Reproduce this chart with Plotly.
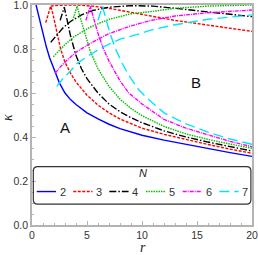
import plotly.graph_objects as go

# ---------------- data ----------------
N_labels = ["2", "3", "4", "5", "6", "7"]

# N = 2 : one descending boundary
r2_low = [0.37, 0.6, 0.8, 1.0, 1.3, 1.6, 2.0, 2.5, 3.0, 3.5, 4.0, 5.0, 6.0, 7.0, 8.0, 9.0, 10.0, 12.0, 14.0, 16.0, 18.0, 20.0]
k2_low = [1.0, 0.95, 0.905, 0.865, 0.81, 0.76, 0.705, 0.645, 0.6, 0.57, 0.548, 0.51, 0.482, 0.458, 0.438, 0.422, 0.408, 0.386, 0.366, 0.347, 0.329, 0.312]

# N = 3
r3_low = [1.25, 1.5, 1.7, 1.9, 2.2, 2.6, 3.0, 3.5, 4.0, 5.0, 6.0, 7.0, 8.0, 9.0, 10.0, 12.0, 14.0, 16.0, 18.0, 20.0]
k3_low = [0.92, 0.965, 0.995, 0.96, 0.89, 0.8, 0.74, 0.69, 0.65, 0.59, 0.545, 0.51, 0.482, 0.46, 0.44, 0.412, 0.388, 0.366, 0.345, 0.326]
r3_up = [1.7, 2.5, 4.0, 5.5, 7.0, 8.8, 10.8, 13.0, 15.0, 17.0, 20.0]
k3_up = [0.995, 0.999, 1.0, 0.995, 0.985, 0.97, 0.95, 0.93, 0.915, 0.9, 0.88]

# N = 4
r4_low = [2.56, 2.75, 2.93, 3.2, 3.5, 4.0, 4.5, 5.0, 6.0, 7.0, 8.0, 9.0, 10.0, 12.0, 14.0, 16.0, 18.0, 20.0]
k4_low = [0.93, 0.96, 0.99, 0.93, 0.86, 0.77, 0.71, 0.665, 0.6, 0.55, 0.515, 0.488, 0.465, 0.428, 0.4, 0.377, 0.356, 0.336]
r4_up = [1.7, 2.2, 2.8, 3.5, 4.5, 5.5, 7.0, 9.0, 11.0, 13.0, 15.0, 17.0, 20.0]
k4_up = [0.83, 0.86, 0.895, 0.925, 0.955, 0.975, 0.99, 0.997, 0.995, 0.985, 0.975, 0.963, 0.947]

# N = 5
r5_low = [3.7, 3.9, 4.1, 4.4, 4.8, 5.3, 6.0, 7.0, 8.0, 9.0, 10.0, 12.0, 14.0, 16.0, 18.0, 20.0]
k5_low = [0.93, 0.965, 0.995, 0.94, 0.87, 0.79, 0.71, 0.63, 0.572, 0.53, 0.497, 0.448, 0.414, 0.389, 0.368, 0.349]
r5_up = [1.95, 2.4, 3.0, 3.8, 5.3, 7.0, 9.0, 10.8, 13.0, 16.0, 20.0]
k5_up = [0.765, 0.79, 0.82, 0.855, 0.9, 0.935, 0.96, 0.97, 0.985, 0.995, 1.0]

# N = 6
r6_low = [4.9, 5.1, 5.3, 5.6, 6.0, 6.5, 7.0, 8.0, 8.8, 10.0, 12.0, 14.0, 16.0, 18.0, 20.0]
k6_low = [0.93, 0.965, 0.995, 0.94, 0.87, 0.8, 0.745, 0.655, 0.6, 0.55, 0.48, 0.44, 0.41, 0.38, 0.356]
r6_up = [2.1, 2.6, 3.2, 4.0, 5.3, 7.0, 9.0, 10.8, 13.0, 16.0, 20.0]
k6_up = [0.69, 0.72, 0.75, 0.785, 0.826, 0.87, 0.905, 0.93, 0.95, 0.965, 0.977]

# N = 7
r7_low = [6.0, 6.2, 6.4, 6.7, 7.1, 7.6, 8.2, 8.8, 9.7, 10.6, 12.0, 14.0, 16.0, 18.0, 20.0]
k7_low = [0.93, 0.965, 0.995, 0.94, 0.87, 0.8, 0.735, 0.68, 0.615, 0.57, 0.51, 0.46, 0.422, 0.391, 0.367]
r7_up = [2.25, 2.8, 3.5, 4.1, 5.3, 6.5, 8.0, 9.5, 10.8, 13.0, 16.0, 20.0]
k7_up = [0.63, 0.665, 0.7, 0.735, 0.775, 0.81, 0.845, 0.865, 0.886, 0.91, 0.935, 0.955]

colors = ["#0000ff", "#ff0000", "#000000", "#00c000", "#ff00ff", "#00e5ff"]
dashes = ["solid", "3px,1.5px", "7px,2px,1.5px,2px", "1.5px,1px", "4px,1px,1px,1px", "10px,5px"]

lows = [(r2_low, k2_low), (r3_low, k3_low), (r4_low, k4_low), (r5_low, k5_low), (r6_low, k6_low), (r7_low, k7_low)]
ups = [None, (r3_up, k3_up), (r4_up, k4_up), (r5_up, k5_up), (r6_up, k6_up), (r7_up, k7_up)]

fig = go.Figure()
for i, lab in enumerate(N_labels):
    line = dict(color=colors[i], width=1.4, dash=dashes[i])
    rx, ky = lows[i]
    fig.add_trace(go.Scatter(x=rx, y=ky, mode="lines", line=line, name=lab, showlegend=False,
                             hoverinfo="skip"))
    if ups[i] is not None:
        ux, uy = ups[i]
        fig.add_trace(go.Scatter(x=ux, y=uy, mode="lines", line=line, name=lab, showlegend=False,
                                 hoverinfo="skip"))

tickfont = dict(family="Liberation Sans", size=10.5, color="#333333")
axis_common = dict(showline=True, linecolor="#b4b4b4", linewidth=1.5, mirror=True,
                   ticks="inside", ticklen=4, tickcolor="#b4b4b4", tickwidth=1,
                   showgrid=False, zeroline=False, automargin=False, tickfont=tickfont,
                   ticklabeloverflow="allow")
fig.update_xaxes(range=[0, 20], tickvals=[0, 5, 10, 15, 20], ticktext=["0", "5", "10", "15", "20"],
                 minor=dict(dtick=1, ticks="inside", ticklen=2, tickcolor="#b4b4b4"),
                 **axis_common)
fig.update_yaxes(range=[0, 1], tickvals=[0, 0.2, 0.4, 0.6, 0.8, 1.0],
                 ticktext=["0.0", "0.2", "0.4", "0.6", "0.8", "1.0"],
                 minor=dict(dtick=0.05, ticks="inside", ticklen=2, tickcolor="#b4b4b4"),
                 **axis_common)

# axis titles
fig.add_annotation(xref="paper", yref="paper", x=0.505, y=-0.1, yanchor="middle", xanchor="center",
                   text="<i>r</i>", showarrow=False,
                   font=dict(family="Liberation Serif", size=14, color="#222222"))
fig.add_annotation(xref="paper", yref="paper", x=-0.114, y=0.49, yanchor="middle", xanchor="center",
                   text="<i>κ</i>", showarrow=False, textangle=-90,
                   font=dict(family="Liberation Serif", size=14, color="#222222"))

# region labels
fig.add_annotation(x=3.0, y=0.445, text="A", showarrow=False,
                   font=dict(family="Liberation Sans", size=15, color="#111111"))
fig.add_annotation(x=14.9, y=0.65, text="B", showarrow=False,
                   font=dict(family="Liberation Sans", size=15, color="#111111"))

# legend frame (rounded)
x0, x1, y0, y1 = 0.12, 19.9, 0.095, 0.265
rx_, ry_ = 0.4, 0.02
fig.add_shape(type="path", xref="x", yref="y", layer="above",
              path=(f"M {x0+rx_},{y0} L {x1-rx_},{y0} Q {x1},{y0} {x1},{y0+ry_} L {x1},{y1-ry_} "
                    f"Q {x1},{y1} {x1-rx_},{y1} L {x0+rx_},{y1} Q {x0},{y1} {x0},{y1-ry_} "
                    f"L {x0},{y0+ry_} Q {x0},{y0} {x0+rx_},{y0} Z"),
              line=dict(color="#333333", width=1.2), fillcolor="rgba(0,0,0,0)")
fig.add_annotation(x=10.1, y=0.235, text="<i>N</i>", showarrow=False,
                   font=dict(family="Liberation Sans", size=11, color="#222222"))

leg_x0 = [0.43, 3.75, 7.03, 10.36, 13.7, 17.03]
for i, lab in enumerate(N_labels):
    xs = leg_x0[i]
    fig.add_shape(type="line", xref="x", yref="y", layer="above",
                  x0=xs, x1=xs + 1.75, y0=0.152, y1=0.152,
                  line=dict(color=colors[i], width=1.4, dash=dashes[i]))
    fig.add_annotation(x=xs + 2.35, y=0.152, text=lab, showarrow=False,
                       font=dict(family="Liberation Sans", size=11, color="#333333"))

fig.update_layout(
    width=258, height=255,
    margin=dict(l=32, r=6, t=5, b=30),
    paper_bgcolor="white", plot_bgcolor="white",
    showlegend=False, hovermode=False,
)

fig.write_html("out.html", config={"displayModeBar": False},
               post_script="document.body.style.margin='0px';document.body.style.overflow='hidden';")
